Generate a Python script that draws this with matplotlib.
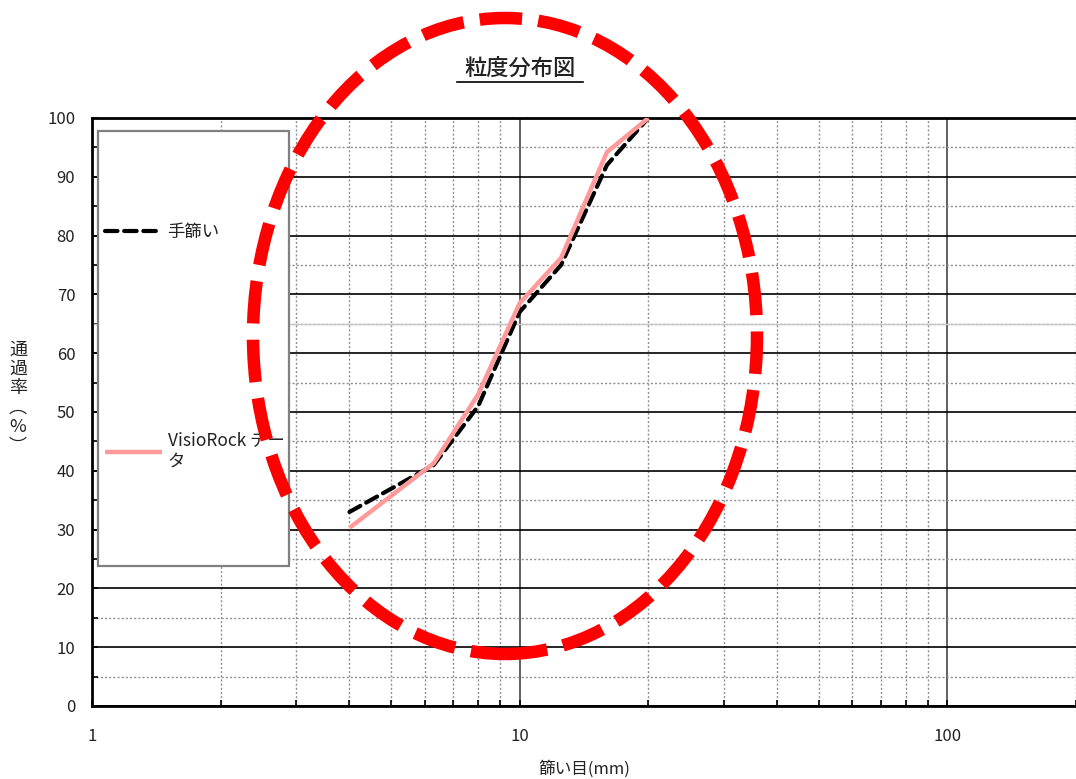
import numpy as np
import matplotlib
matplotlib.use("Agg")
import matplotlib.pyplot as plt
from matplotlib.patches import Ellipse, Rectangle
from matplotlib.lines import Line2D

plt.rcParams['font.family'] = ['Noto Sans CJK JP', 'DejaVu Sans']

# データ
sieve_mm = [4.0, 6.3, 8.0, 10.0, 12.5, 16.0, 20.0]
hand_pass = [33.0, 41.0, 51.0, 67.0, 75.0, 92.0, 100.0]
visio_sieve_mm = [4.0, 6.3, 8.0, 10.0, 12.5, 16.0, 20.0]
visio_pass = [30.3, 41.3, 53.0, 68.5, 76.2, 94.2, 100.0]

x_ticks = [1, 10, 100]
x_ticklabels = ['1', '10', '100']
y_ticks = list(range(0, 101, 10))

title = '粒度分布図'
xlabel = '篩い目(mm)'
ylabel = '通\n過\n率\n︵\n%\n︶'
labels = ['手篩い', 'VisioRock デー\nタ']

fig = plt.figure(figsize=(10.76, 7.79), dpi=100)
ax = fig.add_axes([92/1076, 1-706/779, 984/1076, 588/779])

ax.set_xscale('log')
ax.set_xlim(1, 200)
ax.set_ylim(0, 100)

# グリッド
ax.set_yticks(y_ticks)
ax.set_yticks(list(range(5, 100, 10)), minor=True)
ax.set_xticks(x_ticks)
ax.set_xticklabels(x_ticklabels)
ax.xaxis.set_minor_locator(matplotlib.ticker.LogLocator(base=10, subs=np.arange(2, 10)))
ax.xaxis.set_minor_formatter(matplotlib.ticker.NullFormatter())
ax.grid(axis='y', which='major', color='black', lw=1.2, ls='-')
ax.grid(axis='y', which='minor', color='#909090', lw=1.0, ls=(0, (1.5, 1.5)))
ax.grid(axis='x', which='major', color='#606060', lw=1.4, ls='-')
ax.grid(axis='x', which='minor', color='#909090', lw=1.0, ls=(0, (1.5, 1.5)))
ax.axhline(65, color='#c8c8c8', lw=1.0, zorder=1)
ax.set_axisbelow(True)

ax.tick_params(which='both', direction='in', length=4, width=1.2, colors='black',
               labelsize=12, labelcolor='#222222')
ax.tick_params(axis='y', pad=12)
ax.tick_params(axis='x', pad=16)
for s in ['left', 'bottom', 'top']:
    ax.spines[s].set_linewidth(2)
ax.spines['right'].set_visible(False)

# 線
l1, = ax.plot(sieve_mm, hand_pass, color='black', lw=3, ls=(0, (3, 1.6)),
              dash_capstyle='round', zorder=3)
l2, = ax.plot(visio_sieve_mm, visio_pass, color='#ff9a9a', lw=3.2,
              solid_capstyle='butt', zorder=4)

# 凡例
fig.patches.append(Rectangle((98/1076, 1-566/779), 191/1076, 435/779,
                             transform=fig.transFigure, facecolor='white',
                             edgecolor='#808080', lw=1.6, zorder=5))
leg = fig.legend([l1, l2], labels, loc='upper left',
                 bbox_to_anchor=(105/1076, 1-223/779), frameon=False,
                 fontsize=12.5, labelspacing=11.0, handlelength=3.3,
                 handletextpad=0.3, borderpad=0, borderaxespad=0)
leg.set_zorder(6)
for t in leg.get_texts():
    t.set_color('#222222')

# タイトル・ラベル
fig.text(520/1076, 1-68/779, title, ha='center', va='center', fontsize=16,
         fontweight='medium', color='#222222')
fig.lines.append(Line2D([457/1076, 583/1076], [1-82/779, 1-82/779],
                        transform=fig.transFigure, color='black', lw=1.2))
fig.text(584/1076, 1-769/779, xlabel, ha='center', va='center', fontsize=12,
         color='#222222')
fig.text(18/1076, 1-398/779, ylabel, ha='center', va='center', fontsize=13,
         color='#222222', linespacing=1.1)

# 赤い楕円
ell = Ellipse((505/1076, 1-336/779), 504/1076, 636/779, transform=fig.transFigure,
              fill=False, edgecolor='red', lw=9, ls=(0, (3.4, 1.3)), zorder=10)
fig.patches.append(ell)

fig.savefig('out.png', dpi=100)
